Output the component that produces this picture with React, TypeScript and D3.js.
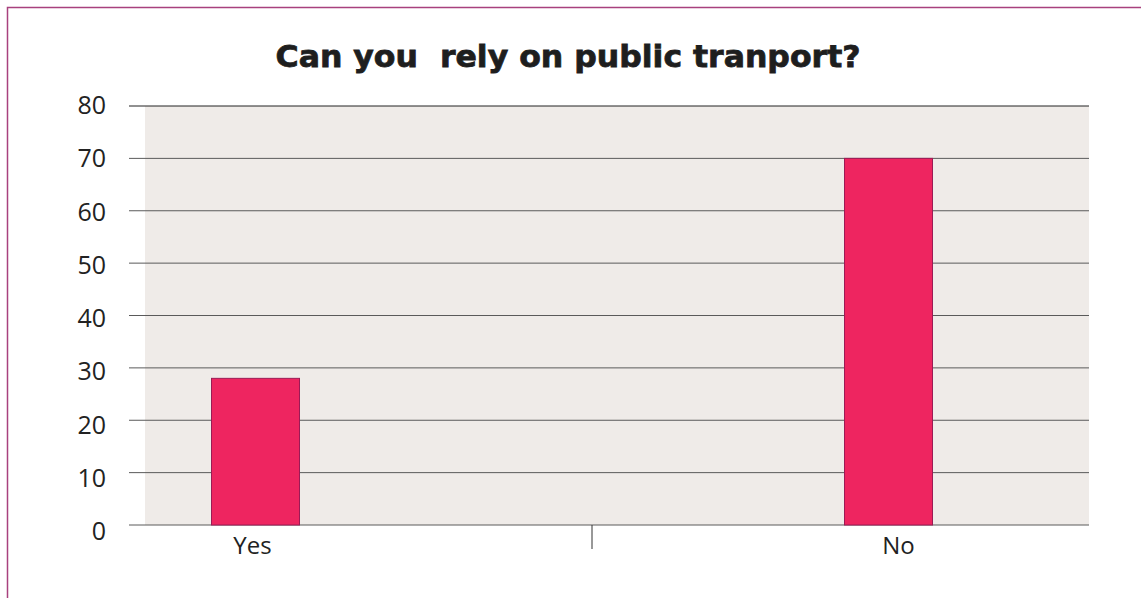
import React from "react";
import * as d3 from "d3";

const categories = ["Yes", "No"];
const values = [28, 70];
const yTicks = [0, 10, 20, 30, 40, 50, 60, 70, 80];
const title = "Can you\u00a0 rely on public tranport?";

const W = 1141;
const H = 598;
const plot = { left: 145, right: 1089, top: 106, bottom: 525 };

export default function App() {
  const y = d3.scaleLinear().domain([0, 80]).range([plot.bottom, plot.top]);
  const yLab = d3.scaleLinear().domain([0, 80]).range([531, 105]);
  const x = d3.scalePoint<string>().domain(categories).range([255.5, 888.5]);
  const barW = 88;
  const midTick = 592;

  return (
    <svg
      width={W}
      height={H}
      style={{ position: "absolute", left: 0, top: 0, background: "#fff" }}
    >
      <rect x={7.5} y={7.5} width={W + 20} height={H + 20} fill="#fff" stroke="#a8417e" strokeWidth={1.5} />
      <text
        x={568}
        y={67}
        textAnchor="middle"
        fontFamily="'DejaVu Sans', sans-serif"
        fontWeight="900"
        fontSize={31}
        fill="#1e1e1e"
        stroke="#1e1e1e"
        strokeWidth={0.8}
        textLength={585}
        lengthAdjust="spacingAndGlyphs"
      >
        {title}
      </text>
      <rect
        x={plot.left}
        y={plot.top}
        width={plot.right - plot.left}
        height={plot.bottom - plot.top}
        fill="#efebe8"
      />
      {yTicks.map((t) => (
        <g key={t}>
          <line
            x1={129}
            x2={plot.right}
            y1={y(t)}
            y2={y(t)}
            stroke={t === 80 ? "#222" : "#5a5a5a"}
            strokeWidth={1}
          />
          <text
            x={106}
            y={yLab(t)}
            dy="0.36em"
            textAnchor="end"
            fontFamily="'Open Sans', sans-serif"
            fontSize={25}
            fill="#222"
          >
            {t}
          </text>
        </g>
      ))}
      {categories.map((c, i) => (
        <g key={c}>
          <rect
            x={(x(c) as number) - barW / 2}
            y={y(values[i])}
            width={barW}
            height={plot.bottom - y(values[i])}
            fill="#ee2560"
            stroke="#9c1a55"
            strokeWidth={1}
          />
          <text
            x={(x(c) as number) + (i === 0 ? -3 : 10)}
            y={554}
            textAnchor="middle"
            fontFamily="'Open Sans', sans-serif"
            fontSize={24}
            fill="#222"
          >
            {c}
          </text>
        </g>
      ))}
      <line x1={midTick} x2={midTick} y1={plot.bottom} y2={549} stroke="#333" strokeWidth={1} />
    </svg>
  );
}
